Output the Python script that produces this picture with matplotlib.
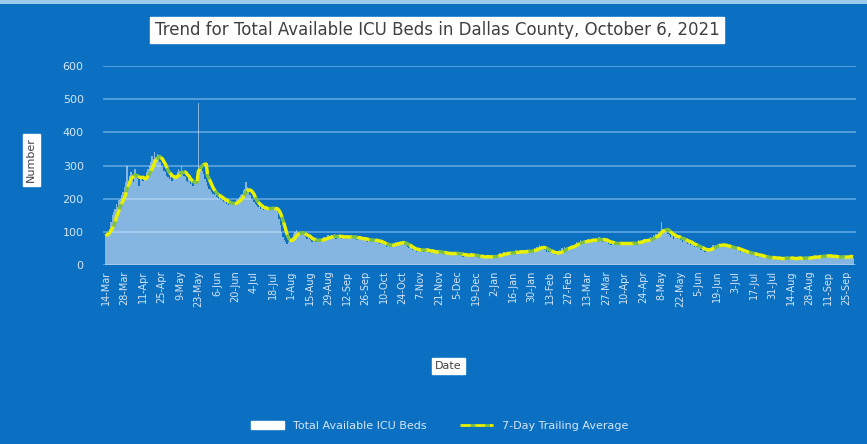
import pandas as pd
import matplotlib.pyplot as plt
from matplotlib.patches import Patch, Rectangle
from matplotlib.lines import Line2D

# daily total available ICU beds, one row per two weeks starting 14-Mar-2020
beds_rows = [
    [95, 85, 100, 110, 130, 150, 160, 170, 185, 175, 195, 200, 210, 220],
    [235, 250, 300, 255, 270, 280, 265, 250, 290, 275, 260, 240, 270, 265],
    [255, 270, 260, 280, 290, 300, 310, 330, 320, 340, 325, 335, 330, 310],
    [300, 295, 285, 280, 270, 265, 260, 275, 255, 270, 265, 260, 280, 290],
    [285, 300, 275, 270, 265, 255, 250, 260, 245, 250, 240, 255, 250, 250],
    [490, 280, 290, 285, 275, 260, 250, 240, 230, 225, 220, 215, 210, 215],
    [205, 200, 210, 195, 200, 190, 195, 185, 190, 180, 185, 190, 180, 185],
    [190, 195, 200, 205, 210, 215, 225, 230, 250, 235, 220, 210, 200, 195],
    [190, 185, 180, 175, 180, 170, 175, 165, 170, 175, 165, 170, 175, 170],
    [175, 170, 165, 170, 160, 140, 120, 100, 85, 75, 70, 65, 70, 75],
    [80, 85, 95, 100, 105, 95, 100, 90, 95, 100, 90, 85, 80, 85],
    [80, 75, 70, 75, 80, 70, 75, 80, 75, 70, 80, 85, 80, 85],
    [90, 85, 80, 90, 85, 95, 80, 85, 90, 85, 80, 90, 85, 80],
    [85, 90, 80, 85, 90, 85, 80, 85, 75, 80, 85, 80, 75, 80],
    [80, 75, 70, 80, 75, 70, 75, 80, 70, 75, 70, 65, 70, 65],
    [65, 60, 55, 60, 65, 55, 60, 65, 60, 70, 65, 70, 65, 70],
    [65, 70, 60, 65, 55, 50, 55, 50, 45, 50, 45, 40, 50, 45],
    [45, 50, 40, 45, 50, 45, 40, 35, 40, 45, 40, 35, 40, 45],
    [40, 35, 40, 35, 30, 40, 35, 30, 40, 35, 30, 35, 40, 35],
    [35, 30, 35, 30, 25, 30, 35, 30, 25, 30, 35, 30, 25, 30],
    [30, 25, 20, 25, 30, 25, 20, 25, 30, 25, 20, 25, 30, 25],
    [25, 30, 25, 30, 35, 30, 35, 40, 35, 30, 40, 35, 40, 35],
    [40, 35, 45, 40, 35, 40, 45, 40, 35, 45, 40, 45, 40, 45],
    [40, 45, 50, 45, 55, 50, 60, 55, 50, 55, 45, 40, 45, 40],
    [40, 35, 40, 35, 30, 40, 35, 45, 40, 50, 45, 55, 50, 55],
    [50, 55, 60, 55, 60, 65, 70, 65, 70, 75, 70, 65, 75, 70],
    [75, 80, 70, 75, 80, 75, 70, 80, 75, 85, 80, 75, 70, 75],
    [70, 75, 65, 70, 60, 65, 70, 60, 65, 70, 65, 60, 70, 65],
    [60, 65, 70, 65, 60, 70, 65, 70, 60, 65, 70, 75, 70, 75],
    [70, 80, 75, 70, 80, 75, 85, 80, 90, 85, 95, 90, 100, 95],
    [130, 110, 105, 100, 110, 95, 90, 85, 95, 80, 85, 90, 80, 85],
    [80, 75, 70, 80, 75, 70, 65, 70, 60, 65, 60, 55, 60, 55],
    [55, 50, 45, 50, 45, 40, 45, 50, 45, 50, 55, 60, 55, 60],
    [60, 65, 60, 55, 65, 60, 55, 60, 55, 50, 55, 50, 55, 50],
    [50, 45, 50, 45, 40, 45, 40, 35, 40, 35, 40, 35, 30, 35],
    [30, 35, 30, 25, 30, 25, 30, 25, 20, 25, 20, 25, 20, 25],
    [20, 25, 20, 15, 20, 25, 20, 15, 20, 25, 20, 25, 20, 15],
    [20, 25, 20, 15, 20, 25, 20, 25, 20, 15, 20, 25, 20, 25],
    [20, 25, 20, 25, 30, 25, 20, 25, 30, 25, 30, 25, 30, 25],
    [30, 25, 30, 25, 20, 25, 30, 25, 20, 25, 20, 25, 30, 25],
    [25, 20, 25, 30, 25, 20],
]
start_date = "2020-03-14"
y_ticks = [0, 100, 200, 300, 400, 500, 600]

beds = [v for row in beds_rows for v in row]
dates = pd.date_range(start_date, periods=len(beds), freq="D")
df = pd.DataFrame({"Date": dates, "Beds": beds})
df["Avg"] = df["Beds"].rolling(7, min_periods=1).mean()

tick_dates = pd.date_range(start_date, dates[-1], freq="14D")
tick_labels = [f"{d.day}-{d.strftime('%b')}" for d in tick_dates]

bg = "#0B6FC2"
txt = "#D6E6F5"
grid = "#5EA4E0"

fig = plt.figure(figsize=(8.67, 4.44), dpi=100, facecolor=bg)
ax = fig.add_axes([0.119, 0.403, 0.868, 0.448], facecolor=bg)

ax.bar(df["Date"], df["Beds"], width=1.0, color="#E8F2FB", alpha=0.55,
       linewidth=0, zorder=2)
ax.plot(df["Date"], df["Avg"], color="#E6F000", linestyle="--", gapcolor="#7DC242",
        linewidth=2.5, zorder=3)

ax.set_ylim(0, 600)
ax.set_yticks(y_ticks)
ax.set_xlim(dates[0] - pd.Timedelta(days=2), dates[-1] + pd.Timedelta(days=2))
ax.set_xticks(tick_dates)
ax.set_xticklabels(tick_labels, rotation=90, fontsize=7, color=txt)
ax.tick_params(axis="y", labelsize=8, colors=txt, length=0, pad=14)
ax.tick_params(axis="x", length=0, pad=4)
ax.grid(axis="y", color=grid, linewidth=1.2, zorder=1)
for s in ax.spines.values():
    s.set_visible(False)

fig.text(0.504, 0.932, "Trend for Total Available ICU Beds in Dallas County, October 6, 2021",
         ha="center", va="center", fontsize=12, color="#404040",
         bbox=dict(facecolor="white", edgecolor="white", boxstyle="square,pad=0.25"))
fig.text(0.036, 0.64, "Number", rotation=90, ha="center", va="center", fontsize=8,
         color="#404040", bbox=dict(facecolor="white", edgecolor="white", boxstyle="square,pad=0.3"))
fig.text(0.517, 0.176, "Date", ha="center", va="center", fontsize=8, color="#404040",
         bbox=dict(facecolor="white", edgecolor="white", boxstyle="square,pad=0.3"))

handles = [Patch(facecolor="white", edgecolor="white"),
           Line2D([], [], color="#E6F000", linestyle="--", gapcolor="#7DC242", linewidth=2)]
fig.legend(handles, ["Total Available ICU Beds", "7-Day Trailing Average"],
           loc="center", bbox_to_anchor=(0.507, 0.04), ncol=2, frameon=False,
           fontsize=8, labelcolor=txt, handlelength=3, columnspacing=3)

fig.patches.append(Rectangle((0, 0.99), 1, 0.01, transform=fig.transFigure,
                             facecolor="#9CCBEB", edgecolor="none"))

fig.savefig("out.png", dpi=100, facecolor=bg)
